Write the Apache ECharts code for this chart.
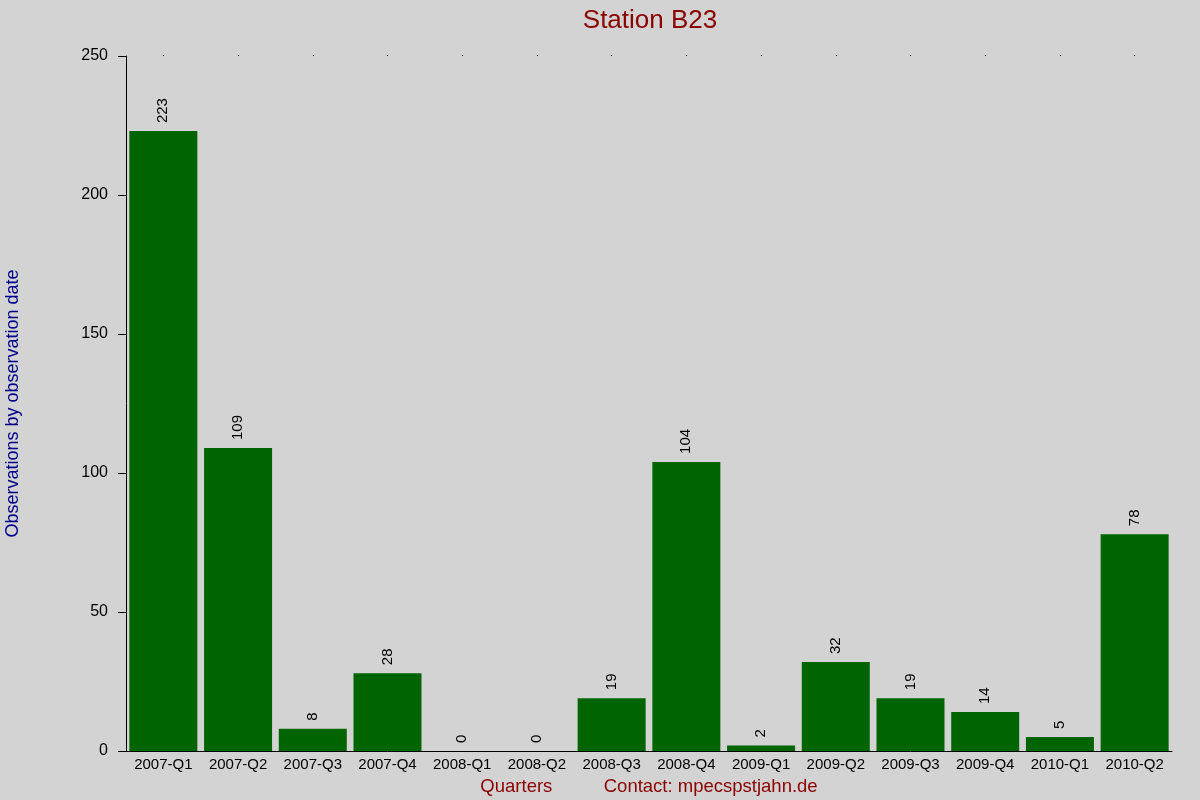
<!DOCTYPE html>
<html>
<head>
<meta charset="utf-8">
<script src="https://cdn.jsdelivr.net/npm/echarts@6/dist/echarts.min.js"></script>
<style>html,body{margin:0;padding:0;background:#d3d3d3;}#main{width:1200px;height:800px;}</style>
</head>
<body>
<div id="main"></div>
<script>
const categories = ['2007-Q1','2007-Q2','2007-Q3','2007-Q4','2008-Q1','2008-Q2','2008-Q3','2008-Q4','2009-Q1','2009-Q2','2009-Q3','2009-Q4','2010-Q1','2010-Q2'];
const observations = [223,109,8,28,0,0,19,104,2,32,19,14,5,78];
const titleText = 'Station B23';
const xAxisName = 'Quarters          Contact: mpecspstjahn.de';
const yAxisName = 'Observations by observation date';

const font = 'Liberation Sans, Arial, Helvetica, sans-serif';
const chart = echarts.init(document.getElementById('main'));
chart.setOption({
  backgroundColor: '#d3d3d3',
  animation: false,
  textStyle: { fontFamily: font },
  title: {
    text: titleText,
    left: 645,
    textAlign: 'center',
    top: 3,
    textStyle: { color: '#8b0000', fontSize: 26, fontWeight: 'normal', fontFamily: font }
  },
  grid: { left: 126, right: 28, top: 56, bottom: 49, containLabel: false, outerBoundsMode: 'none' },
  xAxis: [{
    type: 'category',
    data: categories,
    position: 'bottom',
    axisLine: { show: true, lineStyle: { color: '#000', width: 1 } },
    axisTick: { show: false },
    axisLabel: { color: '#000', fontSize: 15, margin: 6, fontFamily: font, interval: 0 },
    name: xAxisName,
    nameLocation: 'middle',
    nameGap: 26,
    nameTextStyle: { color: '#8b0000', fontSize: 18.5, fontFamily: font }
  }, {
    type: 'category',
    data: categories,
    position: 'top',
    axisLine: { show: false },
    axisTick: { show: true, alignWithLabel: true, length: 1, lineStyle: { color: '#000' } },
    axisLabel: { show: false }
  }],
  yAxis: {
    type: 'value',
    min: 0,
    max: 250,
    interval: 50,
    splitLine: { show: false },
    axisLine: { show: true, lineStyle: { color: '#000', width: 1 } },
    axisTick: { show: true, length: 8, lineStyle: { color: '#000' } },
    axisLabel: { color: '#000', fontSize: 16, margin: 18, fontFamily: font },
    name: yAxisName,
    nameLocation: 'middle',
    nameRotate: 90,
    nameGap: 104,
    nameTextStyle: { color: '#00008b', fontSize: 18, fontFamily: font }
  },
  series: [{
    type: 'bar',
    data: observations,
    barCategoryGap: '9%',
    itemStyle: { color: '#006400' },
    label: {
      show: true,
      position: 'top',
      rotate: 90,
      align: 'left',
      verticalAlign: 'middle',
      distance: 8,
      color: '#000',
      fontSize: 15,
      fontFamily: font
    }
  }]
});
</script>
</body>
</html>
